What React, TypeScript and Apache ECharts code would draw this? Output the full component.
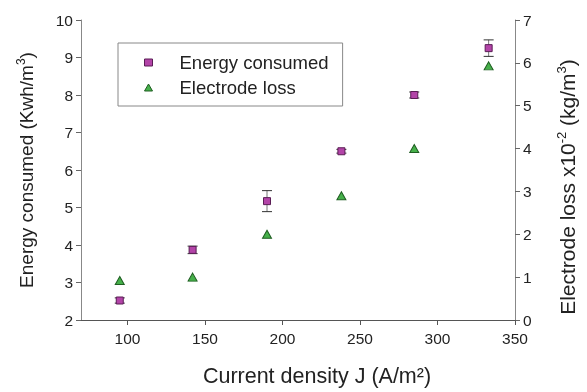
import React, { useEffect, useRef } from "react";
import * as echarts from "echarts";

const currentDensity = [95, 142, 190, 238, 285, 333];
const energyConsumed = [2.52, 3.87, 5.17, 6.5, 8.0, 9.25];
const energyError = [0.07, 0.1, 0.28, 0.05, 0.08, 0.22];
const electrodeLoss = [0.92, 1.0, 2.0, 2.9, 4.0, 5.93];
const xTicks = [100, 150, 200, 250, 300, 350];

const FONT = "Liberation Sans, Arial, sans-serif";
const TXT = "#222";

export default function App() {
  const ref = useRef<HTMLDivElement>(null);
  useEffect(() => {
    if (!ref.current) return;
    const chart = echarts.init(ref.current, undefined, { renderer: "svg" });
    const energyData = currentDensity.map((x, i) => [x, energyConsumed[i]]);
    const errData = currentDensity.map((x, i) => [x, energyConsumed[i], energyError[i]]);
    const lossData = currentDensity.map((x, i) => [x, electrodeLoss[i]]);
    chart.setOption({
      animation: false,
      textStyle: { fontFamily: FONT, color: TXT },
      grid: { left: 81, right: 72, top: 20, bottom: 69, containLabel: false },
      legend: {
        data: ["Energy consumed", "Electrode loss"],
        orient: "vertical",
        left: 118,
        top: 43,
        padding: [10, 14, 9, 26],
        itemGap: 6,
        itemWidth: 8,
        itemHeight: 7,
        itemStyle: { borderWidth: 1 },
        borderColor: "#888",
        borderWidth: 1,
        backgroundColor: "#fff",
        textStyle: { fontFamily: FONT, fontSize: 18.5, color: TXT, padding: [0, 0, 0, 22] },
      },
      xAxis: {
        type: "value",
        min: 70,
        max: 350,
        name: "Current density J (A/m²)",
        nameLocation: "middle",
        nameGap: 45,
        nameTextStyle: { fontFamily: FONT, fontSize: 21.5, color: TXT, padding: [0, 0, 0, 38] },
        axisLine: { show: true, lineStyle: { color: "#555", width: 1 } },
        axisTick: { show: true, length: 5, customValues: xTicks, lineStyle: { color: "#555" } },
        axisLabel: { customValues: xTicks, fontFamily: FONT, fontSize: 15.5, color: TXT, margin: 10 },
        splitLine: { show: false },
      },
      yAxis: [
        {
          type: "value",
          min: 2,
          max: 10,
          interval: 1,
          position: "left",
          name: "{a|Energy consumed (Kwh/m}{s|3}{a|)}",
          nameLocation: "middle",
          nameGap: 44,
          nameRotate: 90,
          nameTextStyle: {
            fontFamily: FONT,
            color: TXT,
            rich: {
              a: { fontFamily: FONT, fontSize: 19, color: TXT, lineHeight: 22 },
              s: { fontFamily: FONT, fontSize: 12, color: TXT, lineHeight: 12, verticalAlign: "top" },
            },
          },
          axisLine: { show: true, lineStyle: { color: "#888", width: 1 } },
          axisTick: { show: true, length: 5, lineStyle: { color: "#666" } },
          axisLabel: { fontFamily: FONT, fontSize: 15.5, color: TXT, margin: 8 },
          splitLine: { show: false },
        },
        {
          type: "value",
          min: 0,
          max: 7,
          interval: 1,
          position: "right",
          name: "{a|Electrode loss x10}{s|-2}{a| (kg/m}{s|3}{a|)}",
          nameLocation: "middle",
          nameGap: 40,
          nameRotate: 90,
          nameTextStyle: {
            fontFamily: FONT,
            color: TXT,
            padding: [0, 34, 0, 0],
            rich: {
              a: { fontFamily: FONT, fontSize: 21, color: TXT, lineHeight: 24 },
              s: { fontFamily: FONT, fontSize: 13, color: TXT, lineHeight: 13, verticalAlign: "top" },
            },
          },
          axisLine: { show: true, lineStyle: { color: "#888", width: 1 } },
          axisTick: { show: true, length: 5, lineStyle: { color: "#666" } },
          axisLabel: { fontFamily: FONT, fontSize: 15.5, color: TXT, margin: 8 },
          splitLine: { show: false },
        },
      ],
      series: [
        {
          type: "custom",
          name: "err",
          yAxisIndex: 0,
          z: 2,
          data: errData,
          renderItem: (params: any, api: any) => {
            const x = api.value(0);
            const y = api.value(1);
            const e = api.value(2);
            const top = api.coord([x, y + e]);
            const bot = api.coord([x, y - e]);
            const hw = 5;
            return {
              type: "group",
              children: [
                { type: "line", shape: { x1: top[0], y1: top[1], x2: bot[0], y2: bot[1] }, style: { stroke: "#777", lineWidth: 1 } },
                { type: "line", shape: { x1: top[0] - hw, y1: top[1], x2: top[0] + hw, y2: top[1] }, style: { stroke: "#333", lineWidth: 1 } },
                { type: "line", shape: { x1: bot[0] - hw, y1: bot[1], x2: bot[0] + hw, y2: bot[1] }, style: { stroke: "#333", lineWidth: 1 } },
              ],
            };
          },
        },
        {
          type: "scatter",
          name: "Energy consumed",
          yAxisIndex: 0,
          z: 3,
          symbol: "rect",
          symbolSize: 7,
          itemStyle: { color: "#b344a8", borderColor: "#5a1d55", borderWidth: 1, opacity: 1 },
          data: energyData,
        },
        {
          type: "scatter",
          name: "Electrode loss",
          yAxisIndex: 1,
          z: 3,
          symbol: "triangle",
          symbolSize: [9, 8],
          itemStyle: { color: "#46b04a", borderColor: "#1f5e22", borderWidth: 1, opacity: 1 },
          data: lossData,
        },
      ],
    });
    return () => chart.dispose();
  }, []);
  return <div ref={ref} style={{ position: "fixed", left: 0, top: 0, width: 587, height: 392 }} />;
}
